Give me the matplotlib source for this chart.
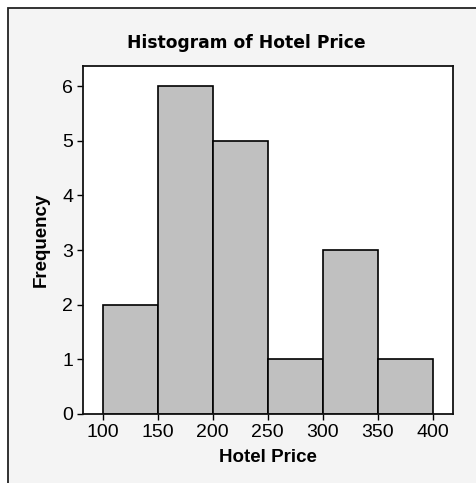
import matplotlib
matplotlib.use("Agg")
import matplotlib.pyplot as plt
from matplotlib.patches import Rectangle

# histogram bins and counts
bin_edges = [100, 150, 200, 250, 300, 350, 400]
counts = [2, 6, 5, 1, 3, 1]
xticks = [100, 150, 200, 250, 300, 350, 400]
yticks = [0, 1, 2, 3, 4, 5, 6]

W, H = 476, 483
fig = plt.figure(figsize=(W / 100, H / 100), dpi=100, facecolor="white")

# grey panel with dark border (runs off the right/bottom edge)
fig.patches.append(Rectangle((8 / W, -0.05), 1.0, 1.05 - 8 / H, transform=fig.transFigure,
                             facecolor="#f4f4f4", edgecolor="#222222", lw=1.3, zorder=-5))

ax = fig.add_axes([83 / W, 1 - 414 / H, (452.5 - 83) / W, (414 - 66) / H])
ax.set_facecolor("white")

lefts = bin_edges[:-1]
widths = [b - a for a, b in zip(bin_edges[:-1], bin_edges[1:])]
ax.bar(lefts, counts, width=widths, align="edge", color="#c0c0c0",
       edgecolor="black", linewidth=1.2, zorder=2)

ax.set_xlim(82, 418)
ax.set_ylim(0, 6.366)
ax.set_xticks(xticks)
ax.set_yticks(yticks)

tick_font = dict(family="Liberation Sans", size=14)
ax.set_xticklabels([str(v) for v in xticks], **tick_font)
ax.set_yticklabels([str(v) for v in yticks], **tick_font)
ax.tick_params(direction="out", length=4, width=1, color="black", pad=3)
for s in ax.spines.values():
    s.set_linewidth(1.3)
    s.set_color("#111111")

ax.set_xlabel("Hotel Price", family="Liberation Sans", weight="bold", size=13.5, labelpad=6)
ax.set_ylabel("Frequency", family="Liberation Sans", weight="bold", size=13.5, labelpad=9)
fig.text(246 / W, 1 - 43 / H, "Histogram of Hotel Price", family="DejaVu Sans",
         weight="bold", size=12.3, ha="center", va="center")

fig.savefig("out.png", dpi=100, facecolor=fig.get_facecolor())
plt.close(fig)
